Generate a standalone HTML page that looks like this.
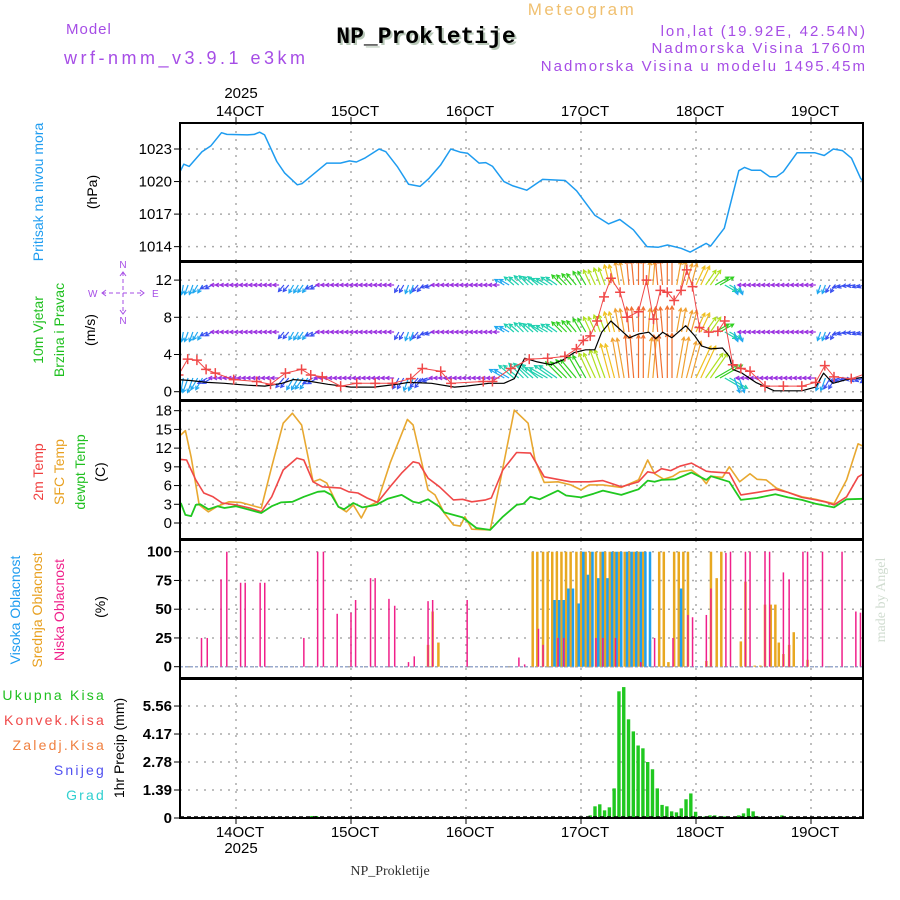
<!DOCTYPE html>
<html><head><meta charset="utf-8"><style>
body{margin:0;background:#fff}
svg{display:block;font-family:"Liberation Sans",sans-serif}
</style></head><body>
<svg id="chart" width="900" height="900" viewBox="0 0 900 900" xmlns="http://www.w3.org/2000/svg">
<rect width="900" height="900" fill="#fff"/>
<g id="hdr">
<text x="66" y="34" font-size="15" fill="#a64de6" letter-spacing="1">Model</text>
<text x="64" y="64" font-size="18" fill="#a64de6" letter-spacing="3.5">wrf-nmm_v3.9.1 e3km</text>
<text x="582" y="15" font-size="17" fill="#f0c070" text-anchor="middle" letter-spacing="2.5">Meteogram</text>
<text x="428" y="45" font-size="23" font-weight="bold" fill="#b8c8b8" text-anchor="middle" font-family="Liberation Mono, monospace">NP_Prokletije</text>
<text x="426" y="43" font-size="23" font-weight="bold" fill="#000" text-anchor="middle" font-family="Liberation Mono, monospace">NP_Prokletije</text>
<text x="867" y="36" font-size="15" fill="#a64de6" text-anchor="end" letter-spacing="2">lon,lat (19.92E, 42.54N)</text>
<text x="867" y="53" font-size="15" fill="#a64de6" text-anchor="end" letter-spacing="2">Nadmorska Visina 1760m</text>
<text x="867" y="71" font-size="15" fill="#a64de6" text-anchor="end" letter-spacing="2">Nadmorska Visina u modelu 1495.45m</text>
<text x="241" y="98" font-size="15" fill="#000" text-anchor="middle">2025</text>
<text x="241" y="853" font-size="15" fill="#000" text-anchor="middle">2025</text>
<text x="390" y="875" font-size="14" fill="#333" text-anchor="middle" font-family="Liberation Serif, serif">NP_Prokletije</text>
<text transform="translate(885,600) rotate(-90)" font-size="14" fill="#d0dcd0" text-anchor="middle" font-family="Liberation Serif, serif">made by Angel</text>
</g>
<g id="labels" font-size="14">
<text transform="translate(43,192) rotate(-90)" fill="#1e9cf0" text-anchor="middle">Pritisak na nivou mora</text>
<text transform="translate(97,192) rotate(-90)" fill="#000" text-anchor="middle">(hPa)</text>
<text transform="translate(43,330) rotate(-90)" fill="#20c020" text-anchor="middle">10m Vjetar</text>
<text transform="translate(64,330) rotate(-90)" fill="#20c020" text-anchor="middle">Brzina i Pravac</text>
<text transform="translate(95,330) rotate(-90)" fill="#000" text-anchor="middle">(m/s)</text>
<g fill="#a64de6" stroke="none" font-size="10">
<text x="123" y="268" text-anchor="middle">N</text>
<text x="123" y="325" text-anchor="middle" transform="rotate(180 123 321)">N</text>
<text x="88" y="297">W</text>
<text x="152" y="297">E</text>
<path d="M123 272V314M102 293H144" stroke="#a64de6" stroke-dasharray="4,3" fill="none"/>
<path d="M106 290l-4 3 4 3M140 290l4 3-4 3M120 276l3-4 3 4M120 310l3 4 3-4" stroke="#a64de6" fill="none"/>
</g>
<text transform="translate(43,472) rotate(-90)" fill="#f04040" text-anchor="middle">2m Temp</text>
<text transform="translate(64,472) rotate(-90)" fill="#e8a020" text-anchor="middle">SFC Temp</text>
<text transform="translate(85,472) rotate(-90)" fill="#20c020" text-anchor="middle">dewpt Temp</text>
<text transform="translate(105,472) rotate(-90)" fill="#000" text-anchor="middle">(C)</text>
<text transform="translate(20,610) rotate(-90)" fill="#1e9cf0" text-anchor="middle">Visoka Oblacnost</text>
<text transform="translate(42,610) rotate(-90)" fill="#e8a020" text-anchor="middle">Srednja Oblacnost</text>
<text transform="translate(64,610) rotate(-90)" fill="#f0208a" text-anchor="middle">Niska Oblacnost</text>
<text transform="translate(105,607) rotate(-90)" fill="#000" text-anchor="middle">(%)</text>
<g font-size="14" text-anchor="end" letter-spacing="2.2">
<text x="106" y="700" fill="#20c020">Ukupna Kisa</text>
<text x="106" y="725" fill="#f04848">Konvek.Kisa</text>
<text x="106" y="750" fill="#f08040">Zaledj.Kisa</text>
<text x="106" y="775" fill="#5050f0">Snijeg</text>
<text x="106" y="800" fill="#30d0d0">Grad</text>
</g>
<text transform="translate(124,748) rotate(-90)" fill="#000" text-anchor="middle">1hr Precip (mm)</text>
</g>
<g id="plot"></g>
</svg>
<script>
// ---------- data ----------
const dayTicks = [14,15,16,17,18,19];
const dayLabels = ["14OCT","15OCT","16OCT","17OCT","18OCT","19OCT"];
const presTicks = [1014,1017,1020,1023];
const presT = [13.498,13.546,13.593,13.704,13.783,13.874,13.921,14.099,14.158,14.205,14.249,14.355,14.423,14.533,14.573,14.79,14.908,14.987,15.047,15.118,15.244,15.303,15.402,15.501,15.6,15.679,15.777,15.868,15.955,16.014,16.113,16.172,16.231,16.33,16.409,16.528,16.666,16.863,16.962,17.12,17.239,17.337,17.456,17.574,17.673,17.752,17.87,17.949,18.028,18.088,18.127,18.246,18.372,18.423,18.483,18.562,18.641,18.7,18.759,18.878,19.036,19.115,19.194,19.273,19.352,19.431,19.502];
const presV = [1020.6,1021.6,1021.4,1022.75,1023.3,1024.5,1024.35,1024.3,1024.35,1024.55,1024.3,1021.85,1020.8,1019.7,1019.8,1021.7,1021.7,1021.9,1021.8,1022.15,1023,1022.75,1021.4,1019.75,1019.55,1020.3,1021.5,1023,1022.7,1022.6,1021.7,1021.75,1021.4,1020,1019.6,1019.2,1020.2,1020.1,1019.15,1016.9,1016.1,1016.5,1015.55,1014,1013.95,1014.15,1013.85,1013.5,1013.95,1014.3,1014.05,1015.7,1021,1021.3,1021.05,1021.05,1020.45,1020.45,1020.9,1022.65,1022.65,1022.4,1023,1022.85,1022.15,1020.3,1019.4];

const windTicks = [0,4,8,12];
const windStart = 13.5;
const windDir = [190,200,210,240, 270,270,270,270,270,270,270, 220,210,215,240, 270,270,270,270,270,270,270,270, 210,200,220,250, 270,270,270,270,270,270,270, 300,310,315,310, 300,305,315,320, 330,335,340,345, 350,355,0,5,355,0,10,15, 25,35,60, 120,160, 270,270,270,270,270,270,270,270, 200,210, 250,260,250,240];
const windSpd = [2.0,2.2,1.8,1.3, 0.8,0.8,0.8,0.8,0.8,0.8,0.8, 1.6,1.8,1.8,1.4, 0.8,0.8,0.8,0.8,0.8,0.8,0.8,0.8, 1.6,1.8,1.6,1.2, 0.8,0.8,0.8,0.8,0.8,0.8,0.8, 2.5,3,3.2,3.2, 3.2,3.4,3.6,3.8, 4.2,4.5,5,6, 7,7.5,7.5,7,7.5,7.8,7.2,6.5, 6,5,4.2, 3.2,2.2, 0.8,0.8,0.8,0.8,0.8,0.8,0.8,0.8, 1.8,1.6, 1.2,1,1,1];
const spdT = [13.5,13.6,13.75,13.9,14.0,14.1,14.25,14.4,14.5,14.6,14.8,15.0,15.2,15.4,15.5,15.7,15.9,16.0,16.2,16.33,16.42,16.51,16.62,16.74,16.84,16.94,17.04,17.12,17.18,17.26,17.34,17.42,17.5,17.59,17.65,17.71,17.79,17.91,17.99,18.05,18.13,18.23,18.29,18.32,18.4,18.52,18.68,18.92,19.04,19.11,19.19,19.31,19.49];
const spdV = [1.3,1.2,1.0,0.9,0.8,0.7,0.6,0.9,1.3,1.2,0.8,0.5,0.5,0.8,1.0,0.9,0.5,0.6,0.9,0.9,1.4,3.6,3.2,2.9,3.4,4.2,4.5,4.5,6.4,7.6,6.7,5.8,6.2,6.4,5.7,6.4,5.8,7.1,6.0,4.9,4.6,4.7,3.8,2.4,2.0,1.0,0.1,0.1,0.5,2.0,0.9,1.3,1.6];
const gustT = [13.5,13.58,13.66,13.74,13.82,13.98,14.18,14.3,14.43,14.57,14.65,14.75,14.91,15.05,15.21,15.36,15.52,15.62,15.78,15.87,16.15,16.23,16.39,16.55,16.71,16.86,16.96,17.02,17.08,17.14,17.2,17.26,17.34,17.4,17.5,17.57,17.63,17.69,17.75,17.81,17.87,17.92,17.97,18.03,18.11,18.19,18.25,18.32,18.39,18.47,18.6,18.76,18.92,19.04,19.12,19.2,19.35,19.49];
const gustV = [1.8,3.5,3.4,2.4,2.0,1.3,1.1,0.8,2.0,2.4,1.8,1.6,0.6,0.9,0.9,0.9,1.4,2.5,2.2,0.9,1.1,1.1,2.5,3.5,3.6,3.8,4.6,5.5,6.0,7.6,10.2,12.2,10.7,8.0,8.6,12.0,7.8,10.9,10.7,9.8,10.9,13.1,11.3,6.9,6.4,6.5,7.6,2.9,2.5,2.2,0.6,0.6,0.6,1.0,2.8,1.6,1.4,2.0];

const tempTicks = [0,3,6,9,12,15,18];
const t2T = [13.52,13.57,13.65,13.72,13.8,13.88,14.0,14.12,14.22,14.31,14.41,14.53,14.59,14.67,14.75,14.83,14.91,14.98,15.06,15.14,15.23,15.34,15.44,15.54,15.59,15.67,15.77,15.89,15.97,16.05,16.17,16.22,16.32,16.44,16.56,16.68,16.91,17.07,17.19,17.35,17.5,17.58,17.64,17.7,17.78,17.86,17.96,18.09,18.13,18.29,18.39,18.53,18.69,18.8,18.92,19.04,19.12,19.2,19.31,19.41,19.49];
const t2V = [10.2,10.1,6.9,4.8,4.2,3.2,2.9,2.4,1.8,4.2,8.5,10.4,10.1,6.6,5.8,5.7,5.6,5.0,4.8,4.0,3.3,5.8,8.0,9.8,9.6,7.2,5.8,3.7,3.8,3.4,3.7,4.0,8.5,11.3,11.2,7.4,6.6,6.6,6.8,5.8,6.6,8.2,8.0,8.7,8.4,9.1,9.6,8.3,8.2,8.0,4.5,4.9,5.4,4.9,4.1,3.7,3.4,2.9,4.2,7.4,8.2];
const sfcT = [13.52,13.56,13.61,13.68,13.76,13.84,13.94,14.04,14.22,14.31,14.41,14.49,14.57,14.67,14.73,14.79,14.89,14.96,15.02,15.09,15.14,15.23,15.34,15.49,15.54,15.67,15.73,15.81,15.89,15.95,15.99,16.05,16.21,16.3,16.42,16.54,16.6,16.68,16.8,16.91,17.0,17.07,17.19,17.35,17.5,17.58,17.64,17.72,17.8,17.86,17.96,18.04,18.09,18.13,18.23,18.29,18.38,18.47,18.53,18.61,18.7,18.8,18.92,19.04,19.2,19.31,19.41,19.49];
const sfcV = [14.1,14.8,10.6,2.9,1.8,2.7,3.4,3.3,2.4,9.0,16.0,17.6,15.7,6.6,7.0,6.4,2.6,1.8,2.9,0.8,2.6,3.4,9.6,16.6,15.7,5.3,4.5,1.6,-0.3,-0.5,1.0,-1.0,-1.1,6.9,18.1,16.0,10.1,6.5,6.6,6.1,5.3,6.1,6.1,5.7,6.9,10.1,7.9,7.0,7.5,8.2,8.5,7.4,6.3,7.5,7.3,9.0,6.6,7.9,7.0,6.9,5.6,4.9,4.2,3.8,3.1,6.9,12.7,12.0];
const dewT = [13.52,13.56,13.61,13.65,13.69,13.76,13.84,13.9,14.0,14.12,14.22,14.31,14.39,14.49,14.59,14.71,14.77,14.83,14.89,14.94,15.02,15.1,15.22,15.32,15.44,15.54,15.59,15.67,15.77,15.81,15.97,16.09,16.21,16.32,16.44,16.5,16.56,16.64,16.72,16.8,16.87,17.0,17.11,17.19,17.35,17.5,17.58,17.64,17.7,17.82,17.96,18.09,18.13,18.29,18.39,18.53,18.69,18.8,18.92,19.04,19.2,19.31,19.49];
const dewV = [3.2,1.3,1.1,2.9,3.0,2.2,2.7,2.4,2.7,2.1,1.6,2.7,3.3,3.4,4.2,5.0,5.1,4.5,2.6,2.2,3.2,2.5,2.9,3.9,4.5,3.4,3.2,3.8,2.6,1.7,0.9,-0.8,-1.1,1.0,2.9,3.1,4.2,3.8,4.5,5.2,4.4,4.1,4.7,5.2,4.5,5.4,6.8,6.6,6.9,7.0,8.1,6.9,7.5,6.6,3.7,4.0,4.6,4.1,3.7,3.1,2.5,3.8,3.9];

const cloudTicks = [0,25,50,75,100];
const lowT = [13.7,13.75,13.87,13.92,14.04,14.08,14.21,14.25,14.59,14.71,14.76,14.88,15.0,15.04,15.17,15.21,15.33,15.38,15.5,15.55,15.67,15.71,16.01,16.46,16.51,16.63,16.67,16.8,16.85,17.13,17.19,17.3,17.52,17.64,17.8,17.93,17.97,18.09,18.13,18.26,18.3,18.43,18.47,18.6,18.64,18.76,18.81,18.93,18.97,19.1,19.27,19.39,19.43];
const lowV = [25,25,76,100,73,73,73,73,25,100,100,46,47,58,77,77,59,53,4,9,57,58,58,8,2,33,19,25,25,25,25,25,4,25,25,45,43,45,68,99,100,100,100,100,100,82,76,100,100,100,100,48,47];
const midT = [15.67,15.71,15.76,16.58,16.62,16.67,16.71,16.75,16.79,16.83,16.87,16.91,16.96,17.0,17.04,17.08,17.13,17.17,17.21,17.25,17.29,17.33,17.38,17.42,17.46,17.5,17.54,17.6,17.68,17.72,17.76,17.81,17.85,17.89,17.93,18.09,18.13,18.18,18.22,18.39,18.43,18.51,18.56,18.6,18.65,18.69,18.72,18.76,18.81,18.85,18.97];
const midV = [19,48,21,100,100,100,100,100,100,100,100,100,100,100,100,100,100,100,100,100,100,100,100,100,100,100,100,23,100,100,4,100,100,100,100,5,100,77,100,22,74,1,1,54,54,54,21,11,19,30,6];
const highT = [16.77,16.81,16.85,16.89,16.93,16.98,17.02,17.06,17.1,17.15,17.19,17.23,17.27,17.31,17.35,17.4,17.44,17.48,17.52,17.56,17.6,17.87];
const highV = [58,58,58,68,68,55,100,80,100,77,100,77,100,100,100,100,100,100,100,100,100,68];

const precipTicks = [0,1.39,2.78,4.17,5.56];
const precipStart = 17.08;
const precipV = [0.13,0.58,0.68,0.38,0.53,1.47,6.29,6.5,4.9,4.3,3.6,3.46,2.78,2.42,1.47,0.65,0.58,0.33,0.28,0.48,0.93,1.22,0.31,0.08,0.08,0.13,0.13,0.08,0.08,0,0,0.13,0.23,0.48,0.33,0.08,0.05,0,0,0,0.13,0,0,0,0,0,0,0.05,0.05];
const precipEarlyT = [14.66,14.7];
const precipEarlyV = [0.1,0.1];

// ---------- geometry ----------
const NS = "http://www.w3.org/2000/svg";
const plot = document.getElementById('plot');
const X0 = 180, X1 = 863;
const xOf = d => 236 + (d - 14) * 115;
const panels = [[123,261],[262,400],[401,539],[540,678],[679,818]];
const yP = p => 149 + (1023 - p) * 10.85;
const yW = v => 391.7 - v * 9.3;
const yT = t => 523 - t * 6.24;
const yC = c => 666.7 - c * 1.15;
const yR = r => 818 - r * 20.14;

function mk(tag, attrs, parent) {
  const e = document.createElementNS(NS, tag);
  for (const k in attrs) e.setAttribute(k, attrs[k]);
  (parent || plot).appendChild(e);
  return e;
}
function clip(id, i) {
  const cp = mk('clipPath', {id: id});
  mk('rect', {x: X0, y: panels[i][0], width: X1 - X0, height: panels[i][1] - panels[i][0]}, cp);
}
panels.forEach((p, i) => clip('c' + i, i));

const gridG = mk('g', {});


panels.forEach((p) => {
  dayTicks.forEach(d => {
    const l = mk('line', {x1: xOf(d), x2: xOf(d), y1: p[0], y2: p[1], stroke: '#aaa', 'stroke-width': 1.5, 'stroke-dasharray': '2,6'}, gridG);
    
    
  });
});
function hgrid(ticks, yf, labels, name, bold) {
  const g = mk('g', {});
  
  
  ticks.forEach((t, i) => {
    const y = yf(t);
    const l = mk('line', {x1: X0, x2: X1, y1: y, y2: y, stroke: '#aaa', 'stroke-width': 1.5, 'stroke-dasharray': '2,6'}, g);
    
    
    mk('line', {x1: X0 - 6, x2: X0, y1: y, y2: y, stroke: '#000'}, g);
    const tx = mk('text', {x: X0 - 8, y: y + 5, 'font-size': 15, 'text-anchor': 'end', fill: '#000', 'font-weight': bold ? 'bold' : 'normal'}, g);
    tx.textContent = labels ? labels[i] : String(t);
    
    
  });
}
hgrid(presTicks, yP, null, 'pressure-y-axis');
hgrid(windTicks, yW, null, 'wind-y-axis');
hgrid(tempTicks, yT, null, 'temp-y-axis');
hgrid(cloudTicks, yC, null, 'cloud-y-axis', true);
hgrid(precipTicks, yR, precipTicks.map(v => String(v)), 'precip-y-axis', true);

dayTicks.forEach((d, i) => {
  const t1 = mk('text', {x: xOf(d) + 4, y: 116, 'font-size': 15, 'text-anchor': 'middle', fill: '#000'});
  t1.textContent = dayLabels[i];
  
  
  mk('line', {x1: xOf(d), x2: xOf(d), y1: 117, y2: 123, stroke: '#000'});
  const t2 = mk('text', {x: xOf(d) + 4, y: 837, 'font-size': 15, 'text-anchor': 'middle', fill: '#000'});
  t2.textContent = dayLabels[i];
  
  
  mk('line', {x1: xOf(d), x2: xOf(d), y1: 818, y2: 824, stroke: '#000'});
});

function line(ts, vs, yf, color, name, ci, w) {
  const pts = ts.map((t, i) => xOf(t).toFixed(1) + ',' + yf(vs[i]).toFixed(1)).join(' ');
  const l = mk('polyline', {points: pts, fill: 'none', stroke: color, 'stroke-width': w || 1.5, 'clip-path': 'url(#c' + ci + ')', 'stroke-linejoin': 'round'});
  
  
}
line(presT, presV, yP, '#1e9cf0', 'pressure-line', 0, 1.5);

function spdColor(s) {
  if (s < 1) return '#9a30e0';
  if (s < 1.7) return '#3a50f0';
  if (s < 2.6) return '#20a8f0';
  if (s < 3.5) return '#20d0b0';
  if (s < 4.5) return '#30d020';
  if (s < 5.5) return '#b0e020';
  if (s < 6.5) return '#f0c020';
  if (s < 7.3) return '#f0a030';
  return '#f07030';
}
const windG = mk('g', {'clip-path': 'url(#c1)'});


const rows = [[285, 2.8, 4], [332, 2.8, 4], [378, 5.2, 4]];
rows.forEach(r => {
  windDir.forEach((dir, i) => {
    const t = windStart + i / 12;
    for (let k = 0; k < 2; k++) {
      const tt = t + k / 24;
      const x = xOf(tt), y = r[0];
      const s = windSpd[i];
      const len = r[2] + s * r[1];
      const a = dir * Math.PI / 180;
      const dx = Math.sin(a) * len, dy = -Math.cos(a) * len;
      const c = spdColor(s);
      const ex = x + dx, ey = y + dy;
      const ha = Math.atan2(dy, dx);
      const hl = 4;
      const p = 'M' + x.toFixed(1) + ' ' + y.toFixed(1) + 'L' + ex.toFixed(1) + ' ' + ey.toFixed(1) +
        'M' + (ex - hl * Math.cos(ha - 0.5)).toFixed(1) + ' ' + (ey - hl * Math.sin(ha - 0.5)).toFixed(1) + 'L' + ex.toFixed(1) + ' ' + ey.toFixed(1) +
        'L' + (ex - hl * Math.cos(ha + 0.5)).toFixed(1) + ' ' + (ey - hl * Math.sin(ha + 0.5)).toFixed(1);
      const e = mk('path', {d: p, stroke: c, 'stroke-width': 1.2, fill: 'none'}, windG);
      
      
    }
  });
});
line(spdT, spdV, yW, '#000', 'wind-speed-line', 1, 1.2);
line(gustT, gustV, yW, '#f04848', 'wind-gust-line', 1, 1);
const gustG = mk('g', {'clip-path': 'url(#c1)'});


gustT.forEach((t, i) => {
  const x = xOf(t), y = yW(gustV[i]);
  const e = mk('path', {d: 'M' + (x - 5) + ' ' + y + 'H' + (x + 5) + 'M' + x + ' ' + (y - 5) + 'V' + (y + 5), stroke: '#f04848', 'stroke-width': 1.5}, gustG);
  
  
});

line(sfcT, sfcV, yT, '#e8a830', 'sfc-temp-line', 2, 1.6);
line(t2T, t2V, yT, '#f04848', 't2m-line', 2, 1.6);
line(dewT, dewV, yT, '#20c820', 'dewpoint-line', 2, 1.8);

function bars(ts, vs, color, name, w) {
  const g = mk('g', {'clip-path': 'url(#c3)'});
  
  
  ts.forEach((t, i) => {
    const y = yC(vs[i]);
    const r = mk('rect', {x: xOf(t) - w / 2, y: y, width: w, height: yC(0) - y, fill: color}, g);
    
    
  });
}
mk('line', {x1: X0, x2: X1, y1: yC(0), y2: yC(0), stroke: '#9ac', 'stroke-width': 1.5, 'stroke-dasharray': '3,2'});
bars(midT, midV, '#e8a820', 'mid-cloud', 2.5);
bars(highT, highV, '#20a0f0', 'high-cloud', 2.5);
bars(lowT, lowV, '#f0208a', 'low-cloud', 1.5);

const prG = mk('g', {'clip-path': 'url(#c4)'});


function pbar(t, v) {
  if (v <= 0) return;
  const y = yR(v);
  const r = mk('rect', {x: xOf(t) - 1.7, y: y, width: 3.4, height: yR(0) - y, fill: '#20c820'}, prG);
  
  
}
precipV.forEach((v, i) => pbar(precipStart + i / 24, v));
precipEarlyT.forEach((t, i) => pbar(t, precipEarlyV[i]));
mk('line', {x1: X0, x2: X1, y1: 817, y2: 817, stroke: '#000', 'stroke-width': 1.5, 'stroke-dasharray': '4,3'});

panels.forEach((p, i) => {
  const r = mk('rect', {x: X0, y: p[0], width: X1 - X0, height: p[1] - p[0], fill: 'none', stroke: '#000', 'stroke-width': 2});
  
  
});
</script>
</body></html>
